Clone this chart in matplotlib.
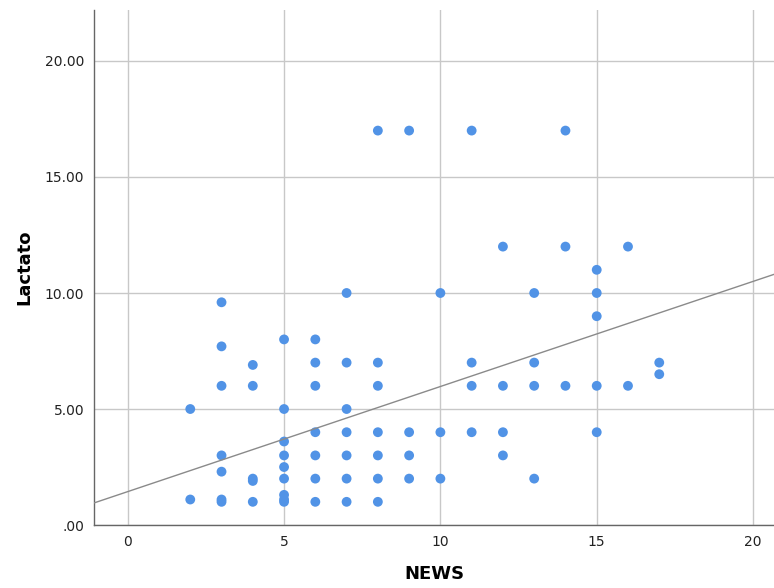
import numpy as np
import matplotlib
matplotlib.use("Agg")
import matplotlib.pyplot as plt

# NEWS score vs lactate
news = [2, 2,
        3, 3, 3, 3, 3, 3, 3,
        4, 4, 4, 4, 4,
        5, 5, 5, 5, 5, 5, 5, 5, 5,
        6, 6, 6, 6, 6, 6, 6,
        7, 7, 7, 7, 7, 7, 7,
        8, 8, 8, 8, 8, 8, 8,
        9, 9, 9, 9,
        10, 10, 10,
        11, 11, 11, 11,
        12, 12, 12, 12,
        13, 13, 13, 13,
        14, 14, 14,
        15, 15, 15, 15, 15,
        16, 16,
        17, 17]
lactato = [5.0, 1.1,
           9.6, 7.7, 6.0, 3.0, 2.3, 1.1, 1.0,
           6.9, 6.0, 2.0, 1.9, 1.0,
           8.0, 5.0, 3.6, 3.0, 2.5, 2.0, 1.3, 1.1, 1.0,
           8.0, 7.0, 6.0, 4.0, 3.0, 2.0, 1.0,
           10.0, 7.0, 5.0, 4.0, 3.0, 2.0, 1.0,
           17.0, 7.0, 6.0, 4.0, 3.0, 2.0, 1.0,
           17.0, 4.0, 3.0, 2.0,
           10.0, 4.0, 2.0,
           17.0, 7.0, 6.0, 4.0,
           12.0, 6.0, 4.0, 3.0,
           10.0, 7.0, 6.0, 2.0,
           17.0, 12.0, 6.0,
           11.0, 10.0, 9.0, 6.0, 4.0,
           12.0, 6.0,
           7.0, 6.5]

# fit line as drawn in the reference (full dataset incl. overlapping cases)
fit_intercept = 1.44
fit_slope = 0.453

x_ticks = [0, 5, 10, 15, 20]
y_ticks = [0, 5, 10, 15, 20]

fig = plt.figure(figsize=(7.74, 5.88), dpi=100)
ax = fig.add_axes([0.1214, 0.1071, 0.8786, 0.876])

ax.set_xlim(-1.08, 20.67)
ax.set_ylim(0, 22.2)

ax.grid(True, color="#c8c8c8", linewidth=1.0)
ax.set_axisbelow(True)

ax.scatter(news, lactato, s=50, color="#5193e6", edgecolors="none", zorder=3)

xl = np.array(ax.get_xlim())
ax.plot(xl, fit_intercept + fit_slope * xl, color="#8a8a8a", linewidth=1.0, zorder=4)

ax.set_xticks(x_ticks)
ax.set_yticks(y_ticks)
ax.set_yticklabels([".00" if v == 0 else f"{v:.2f}" for v in y_ticks])
ax.tick_params(length=0, labelsize=10, colors="#222222", pad=7)

for s in ["top", "right"]:
    ax.spines[s].set_visible(False)
for s in ["left", "bottom"]:
    ax.spines[s].set_color("#666666")
    ax.spines[s].set_linewidth(1.0)

ax.set_xlabel("NEWS", fontsize=13, fontweight="bold", labelpad=12)
ax.set_ylabel("Lactato", fontsize=13, fontweight="bold", labelpad=8)

fig.savefig("out.png", dpi=100)
